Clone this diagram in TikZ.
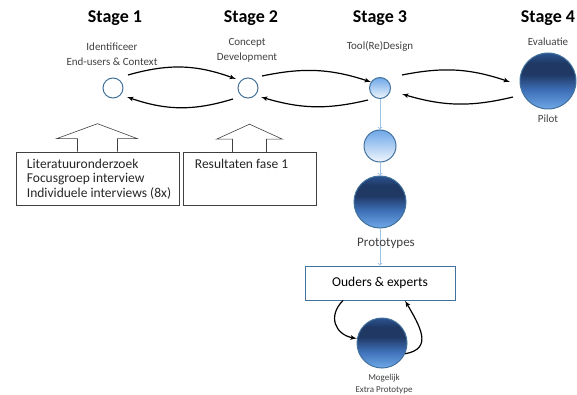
\documentclass[tikz,border=0pt]{standalone}
\usepackage{fontspec}
\setmainfont{Carlito}
\usetikzlibrary{positioning, arrows}
\definecolor{navy}{HTML}{1F3864}
\definecolor{navytop}{HTML}{2C5390}
\definecolor{midblue}{HTML}{3D6FB6}
\definecolor{lightblue}{HTML}{6FA8E8}
\definecolor{rimblue}{HTML}{41719C}
\definecolor{paleblue}{HTML}{9DC3E6}
\definecolor{labelgrey}{HTML}{404040}
\pgfdeclareverticalshading{ballshade}{100bp}{color(0bp)=(lightblue); color(25bp)=(lightblue);
  color(42bp)=(midblue); color(56bp)=(navy); color(66bp)=(navy); color(75bp)=(navytop); color(100bp)=(navytop)}
\pgfdeclareverticalshading{paleshade}{100bp}{color(0bp)=(white); color(25bp)=(white!90!lightblue);
  color(60bp)=(lightblue!75); color(75bp)=(lightblue); color(100bp)=(lightblue)}
\tikzset{
stage/.style={font=\fontsize{18}{21}\selectfont\bfseries},
caption/.style={
  font=\fontsize{11}{15}\selectfont,
  text=labelgrey, align=center
  },
hollow/.style={circle, draw=rimblue, line width=1pt, fill=white, minimum size=20pt, inner sep=0pt},
ball/.style={circle, draw=rimblue, line width=1pt, inner sep=0pt, shading=ballshade},
pale/.style={circle, draw=rimblue, line width=1pt, inner sep=0pt, shading=paleshade},
infobox/.style={
  draw=black!75, 
  rectangle, 
  line width=0.6pt, 
  minimum height=53pt, inner sep=0pt
  },
infotext/.style={font=\fontsize{13.5}{14.5}\selectfont, text=black!85, align=left, inner sep=0pt},
line/.style={->,>=latex', line width=1.2pt},
vline/.style={->,>=to, draw=paleblue, line width=0.8pt}
}
\begin{document}
\begin{tikzpicture}[x=1pt, y=1pt]
\useasboundingbox (0,0) rectangle (577,394);
\node[stage] (s1) at (115,376) {Stage 1};
\node[stage] (s2) at (251,376) {Stage 2};
\node[stage] (s3) at (380,376) {Stage 3};
\node[stage] (s4) at (548,376) {Stage 4};

\node[caption] (t1) at (112,340) {Identificeer\\End-users \& Context};
\node[caption] (t2) at (247,344) {Concept\\Development};
\node[caption] (t3) at (380,348) {Tool(Re)Design};
\node[caption] (t4) at (548,352) {Evaluatie};
\node[caption] (t5) at (548,275) {Pilot};

\node[hollow] (c1) at (113,306) {};
\node[hollow] (c2) at (248,306) {};
\node[pale, minimum size=21pt] (c3) at (380,306) {};
\node[ball, minimum size=56pt] (c4) at (548,313) {};

\draw[line] ([shift={(15,13)}]c1.center) to[bend left=18] ([shift={(-12,9)}]c2.center);
\draw[line] ([shift={(-15,-11)}]c2.center) to[bend left=18] ([shift={(14,-9)}]c1.center);
\draw[line] ([shift={(14,12)}]c2.center) to[bend left=15] ([shift={(-9,6)}]c3.center);
\draw[line] ([shift={(-12,-12)}]c3.center) to[bend left=15] ([shift={(13,-9)}]c2.center);
\draw[line] ([shift={(22,13)}]c3.center) to[bend left=15] ([shift={(-38,-1)}]c4.center);
\draw[line] ([shift={(-35,-16)}]c4.center) to[bend left=15] ([shift={(22,-6)}]c3.center);

\node[pale, minimum size=32pt] (c5) at (380,248) {};
\node[ball, minimum size=52pt] (c6) at (380,192) {};
\node[draw=rimblue, line width=1pt, minimum width=150pt, minimum height=34pt,
  font=\fontsize{13.5}{16}\selectfont] (panel) at (380,111) {Ouders \& experts};
\node[ball, minimum size=50pt] (c7) at (382,51) {};

\draw[vline] (c3) -- (c5);
\draw[vline] (c5) -- (c6);
\draw[vline] (c6) -- (panel);
\node[caption, font=\fontsize{13}{15}\selectfont] (proto) at (386,151) {Prototypes};
\node[caption, font=\fontsize{9}{11.5}\selectfont] (t7) at (384,10) {Mogelijk\\Extra Prototype};

\draw[line] ([xshift=-37]panel.south) to[out=225, in=170, looseness=1.4] (c7.170);
\draw[line] (c7.-25) to[out=10, in=-60, looseness=1.4] ([xshift=25]panel.south);

\node[infobox, minimum width=163pt] (lit) at (97.5,215.5) {};
\node[infobox, minimum width=133pt] (res) at (249.5,215) {};
\node[infotext, below right=7pt and 11pt of lit.north west] (littext)
  {Literatuuronderzoek\\Focusgroep interview\\Individuele interviews (8x)};
\node[infotext, below right=7pt and 12pt of res.north west] (restext) {Resultaten fase 1};
\draw[black!75, line width=0.6pt] ([xshift=-20]lit.north) -- ++(0,13) -- ++(-21,0)
  -- ++(41,15) -- ++(40,-15) -- ++(-20,0) -- ++(0,-13);
\draw[black!75, line width=0.6pt] ([xshift=-17]res.north) -- ++(0,13) -- ++(-16,0)
  -- ++(33,15) -- ++(33,-15) -- ++(-16,0) -- ++(0,-13);
\end{tikzpicture}
\end{document}
